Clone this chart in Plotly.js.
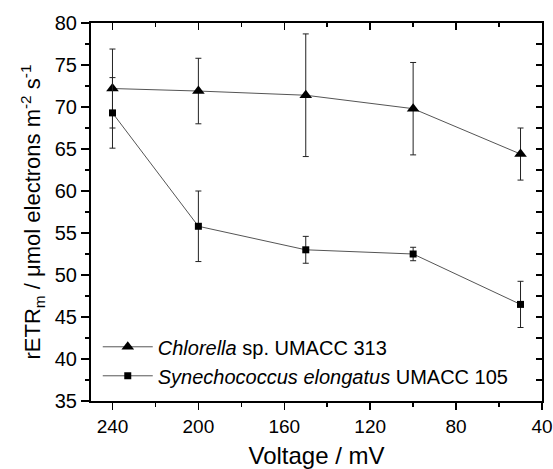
<!DOCTYPE html>
<html>
<head>
<meta charset="utf-8">
<script src="https://cdn.plot.ly/plotly-3.0.1.min.js"></script>
<style>html,body{margin:0;padding:0;background:#fff;}#chart{width:553px;height:469px;}</style>
</head>
<body>
<div id="chart"></div>
<script>
var voltage = [240, 200, 150, 100, 50];
var chlorella = [72.2, 71.9, 71.4, 69.8, 64.4];
var chlorellaErr = [4.7, 3.9, 7.3, 5.5, 3.1];
var synechococcus = [69.3, 55.8, 53.0, 52.5, 46.5];
var synechococcusErr = [4.2, 4.2, 1.6, 0.8, 2.75];
var seriesNames = ['<i>Chlorella</i> sp. UMACC 313', '<i>Synechococcus elongatus</i> UMACC 105'];

var FONT = 'Liberation Sans, Arial, sans-serif';

var traces = [
  {
    x: voltage, y: chlorella, name: seriesNames[0], mode: 'lines+markers', type: 'scatter',
    line: {color: '#555555', width: 1},
    marker: {symbol: 'triangle-up', size: 11, color: '#000000'},
    error_y: {type: 'data', array: chlorellaErr, visible: true, color: '#222222', thickness: 1, width: 3}
  },
  {
    x: voltage, y: synechococcus, name: seriesNames[1], mode: 'lines+markers', type: 'scatter',
    line: {color: '#555555', width: 1},
    marker: {symbol: 'square', size: 7, color: '#000000'},
    error_y: {type: 'data', array: synechococcusErr, visible: true, color: '#222222', thickness: 1, width: 3}
  },
  {
    x: [null], y: [null], xaxis: 'x2', yaxis: 'y2', showlegend: false, hoverinfo: 'skip', mode: 'markers', type: 'scatter'
  }
];

var layout = {
  width: 553, height: 469,
  margin: {l: 91, r: 11, t: 23, b: 68},
  paper_bgcolor: '#ffffff', plot_bgcolor: '#ffffff',
  font: {family: FONT, size: 19, color: '#000000'},
  showlegend: true,
  legend: {
    x: 0.015, y: 0.195, xanchor: 'left', yanchor: 'top',
    bgcolor: 'rgba(0,0,0,0)', borderwidth: 0,
    font: {family: FONT, size: 20, color: '#000000'},
    itemwidth: 50, tracegroupgap: 0
  },
  xaxis: {
    range: [250, 40], tick0: 40, dtick: 40, showgrid: false, zeroline: false,
    showline: true, linecolor: '#000000', linewidth: 2,
    ticks: 'outside', ticklen: 7, tickwidth: 1.5, tickcolor: '#000000',
    minor: {dtick: 20, ticks: 'outside', ticklen: 4, tickwidth: 1.5, tickcolor: '#000000', showgrid: false},
    tickfont: {family: FONT, size: 19},
    title: {text: 'Voltage / mV', font: {family: FONT, size: 24}, standoff: 12}
  },
  yaxis: {
    range: [35, 80], tick0: 35, dtick: 5, showgrid: false, zeroline: false,
    showline: true, linecolor: '#000000', linewidth: 2,
    ticks: 'outside', ticklen: 8, tickwidth: 1.5, tickcolor: '#000000',
    minor: {dtick: 2.5, ticks: 'outside', ticklen: 4, tickwidth: 1.5, tickcolor: '#000000', showgrid: false},
    tickfont: {family: FONT, size: 20},
    title: {text: 'rETR<sub>m</sub> / \u03bcmol electrons m<sup>-2</sup> s<sup>-1</sup>', font: {family: FONT, size: 22}, standoff: 8}
  },
  xaxis2: {
    overlaying: 'x', side: 'top', anchor: 'y2',
    range: [250, 40], tick0: 40, dtick: 40, showgrid: false, zeroline: false,
    showline: true, linecolor: '#000000', linewidth: 2, showticklabels: false,
    ticks: 'inside', ticklen: 7, tickwidth: 1.5, tickcolor: '#000000',
    minor: {dtick: 20, ticks: 'inside', ticklen: 4, tickwidth: 1.5, tickcolor: '#000000', showgrid: false}
  },
  yaxis2: {
    overlaying: 'y', side: 'right', anchor: 'x2',
    range: [35, 80], tick0: 35, dtick: 5, showgrid: false, zeroline: false,
    showline: true, linecolor: '#000000', linewidth: 2, showticklabels: false,
    ticks: 'inside', ticklen: 6, tickwidth: 1.5, tickcolor: '#000000',
    minor: {dtick: 2.5, ticks: 'inside', ticklen: 6, tickwidth: 1.5, tickcolor: '#000000', showgrid: false}
  }
};

Plotly.newPlot('chart', traces, layout, {displayModeBar: false, staticPlot: true});
</script>
</body>
</html>
